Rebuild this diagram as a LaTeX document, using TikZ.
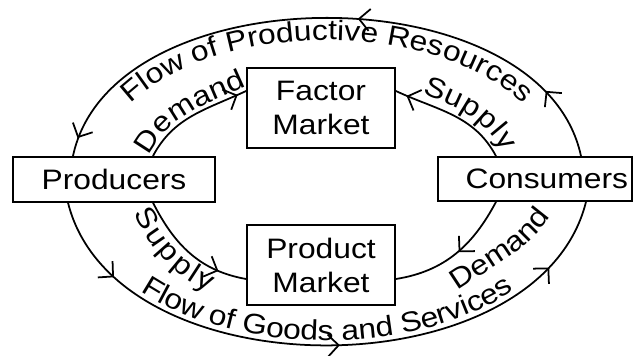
\documentclass[tikz,border=0pt]{standalone}
\usepackage{fontspec}
\setmainfont{Liberation Sans}[FakeStretch=1.13]
\usetikzlibrary{arrows.meta,decorations.markings,decorations.text}
\begin{document}
\fontsize{24}{29}\selectfont
\begin{tikzpicture}[
  >={Straight Barb[length=0.32cm,width=0.66cm]},
  box/.style={draw,line width=1.5pt,inner sep=0pt},
  flow/.style={line width=1.5pt},
  ahead/.style={postaction={decorate,decoration={markings,mark=at position #1 with {\arrow{>}}}}},
  aback/.style={postaction={decorate,decoration={markings,mark=at position #1 with {\arrow{<}}}}},
  lbl/.style n args={3}{postaction={decorate,decoration={text along path,text={#1},raise=#2,text align={#3}}}}
]
\useasboundingbox (0,0) rectangle (18.99,10.68);
\node[box,minimum width=6.06cm,minimum height=1.35cm] (producers) at (3.42,5.30) {Producers};
\node[box,minimum width=5.82cm,minimum height=1.32cm,inner xsep=0.12cm,text width=5.58cm,align=right] (consumers) at (16.05,5.31) {Consumers};
\node[box,minimum width=4.44cm,minimum height=2.4cm,align=center] (factor) at (9.63,7.44) {Factor\\Market};
\node[box,minimum width=4.44cm,minimum height=2.4cm,align=center] (product) at (9.63,2.73) {Product\\Market};
\draw[flow,aback=0.05,aback=0.57,aback=0.9]
  ([xshift=-1.23cm]producers.north) to[out=78,in=102,distance=5.65cm] ([xshift=1.38cm]consumers.north);
\path[lbl={Flow of Productive Resources}{0pt}{center}]
  ([xshift=-0.18cm,yshift=0.735cm]producers.north) to[out=58.6,in=121.4,distance=4.29cm] ([xshift=0.33cm,yshift=0.735cm]consumers.north);
\draw[flow,ahead=0.14,ahead=0.52,ahead=0.88,lbl={Flow of Goods and Services}{0.15cm}{center}]
  ([xshift=-1.38cm]producers.south) to[out=-76,in=-104,distance=5.9cm] ([xshift=1.53cm]consumers.south);
\draw[flow,ahead=0.92,lbl={Demand}{0.12cm}{center}]
  ([xshift=1.17cm]producers.north) to[out=62,in=205] ([yshift=0.51cm]factor.west);
\draw[flow,aback=0.2,lbl={Supply}{0.24cm}{right}]
  ([yshift=0.51cm]factor.east) to[out=-25,in=118] ([xshift=-1.17cm]consumers.north);
\draw[flow,ahead=0.77,lbl={Supply}{-0.68cm}{left}]
  ([xshift=1.17cm]producers.south) to[out=-63,in=170] ([yshift=-0.42cm]product.west);
\draw[flow,aback=0.62]
  ([yshift=-0.42cm]product.east) to[out=9,in=242] ([xshift=-1.17cm]consumers.south);
\path[lbl={Demand}{0pt}{center}]
  ([xshift=1.8cm,yshift=-0.81cm]product.east) to[out=35,in=235] ([xshift=0.51cm,yshift=-0.39cm]consumers.south);
\end{tikzpicture}
\end{document}
